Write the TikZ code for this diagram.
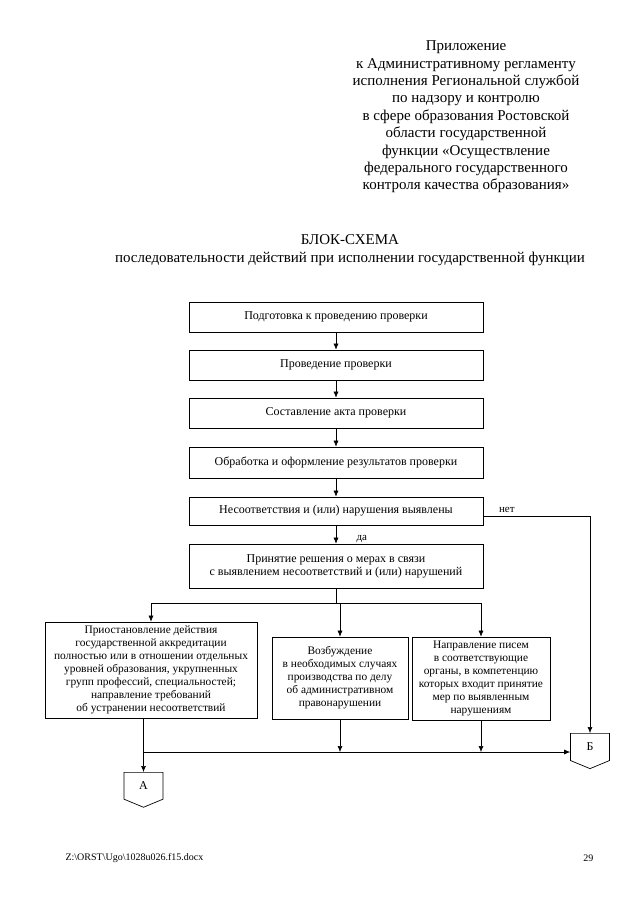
\documentclass[tikz,border=0pt]{standalone}
\usepackage{fontspec}
\setmainfont{Liberation Serif}
\usetikzlibrary{arrows.meta,shapes.symbols}

\begin{document}
\begin{tikzpicture}
  [x=1pt,y=-1pt,
   box/.style={draw,line width=.7pt,align=center,inner sep=2pt,
     font=\fontsize{12}{13}\selectfont},
   smallbox/.style={box,font=\fontsize{11.4}{13}\selectfont},
   arr/.style={-{Latex[length=6pt,width=5pt]},line width=.6pt},
   conn/.style={draw,line width=.7pt,signal,signal to=south,signal from=nowhere,
     signal pointer angle=135,minimum width=39pt,minimum height=30pt,
     font=\fontsize{12}{14}\selectfont}]
  \useasboundingbox (0,0) rectangle (640,905);
  % header
  \node[align=center,font=\fontsize{15}{17.4}\selectfont] (head) at (466,117)
    {Приложение\\к Административному регламенту\\исполнения Региональной службой\\
     по надзору и контролю\\в сфере образования Ростовской\\области государственной\\
     функции «Осуществление\\федерального государственного\\контроля качества образования»};
  \node[align=center,font=\fontsize{15}{18}\selectfont] (title) at (350,250)
    {БЛОК-СХЕМА\\последовательности действий при исполнении государственной функции};
  % main chain
  \node[box,minimum width=294pt,minimum height=30pt] (prep) at (336,317) {Подготовка к проведению проверки};
  \node[box,minimum width=294pt,minimum height=30pt] (insp) at (336,365) {Проведение проверки};
  \node[box,minimum width=294pt,minimum height=30pt] (act)  at (336,413) {Составление акта проверки};
  \node[box,minimum width=294pt,minimum height=31pt] (proc) at (336,462.5) {Обработка и оформление результатов проверки};
  \node[box,minimum width=294pt,minimum height=28pt] (viol) at (336,511) {Несоответствия и (или) нарушения выявлены};
  \node[box,minimum width=294pt,minimum height=44pt] (decide) at (336,566)
    {Принятие решения о мерах в связи\\с выявлением несоответствий и (или) нарушений};
  % measures
  \node[smallbox,minimum width=212pt,minimum height=96pt] (susp) at (151,670)
    {Приостановление действия\\государственной аккредитации\\полностью или в отношении отдельных\\
     уровней образования, укрупненных\\групп профессий, специальностей;\\направление требований\\
     об устранении несоответствий};
  \node[smallbox,minimum width=136pt,minimum height=82pt] (admin) at (340,678)
    {Возбуждение\\в необходимых случаях\\производства по делу\\об административном\\правонарушении};
  \node[smallbox,minimum width=138pt,minimum height=83pt] (letter) at (481,678.5)
    {Направление писем\\в соответствующие\\органы, в компетенцию\\которых входит принятие\\
     мер по выявленным\\нарушениям};
  % off-page connectors
  \node[conn,anchor=north] (B) at (590,733) {Б};
  \node[conn,anchor=north] (A) at (143.5,772) {А};
  % footer
  \node[anchor=west,font=\fontsize{10}{12}\selectfont] (file) at (62,858) {Z:\textbackslash ORST\textbackslash Ugo\textbackslash 1028u026.f15.docx};
  \node[anchor=east,font=\fontsize{10}{12}\selectfont] (page) at (597,858) {29};

  \foreach \from/\to in {prep/insp,insp/act,act/proc,proc/viol}
    \draw[arr] (\from) -- (\to);
  \draw[arr] (viol) -- node[right=17pt,pos=.75,font=\fontsize{11}{12}\selectfont] (yes) {да} (decide);
  \draw[arr] ([yshift=-5pt]viol.east) -| node[above,pos=.11,font=\fontsize{11}{12}\selectfont] (no) {нет} (B.north);
  \draw (decide.south) -- (336,603) coordinate (split);
  \draw[arr] (split) -| (susp.north);
  \draw[arr] (split) -- (split -| admin.north) -- (admin.north);
  \draw[arr] (split) -| (letter.north);
  \coordinate (join) at (143.5,752);
  \draw[arr] (susp.south -| A.north) -- (A.north);
  \draw[arr] (join) -- (join -| B.west);
  \foreach \from in {admin,letter}
    \draw[arr] (\from.south) -- (\from.south |- join);
\end{tikzpicture}
\end{document}
